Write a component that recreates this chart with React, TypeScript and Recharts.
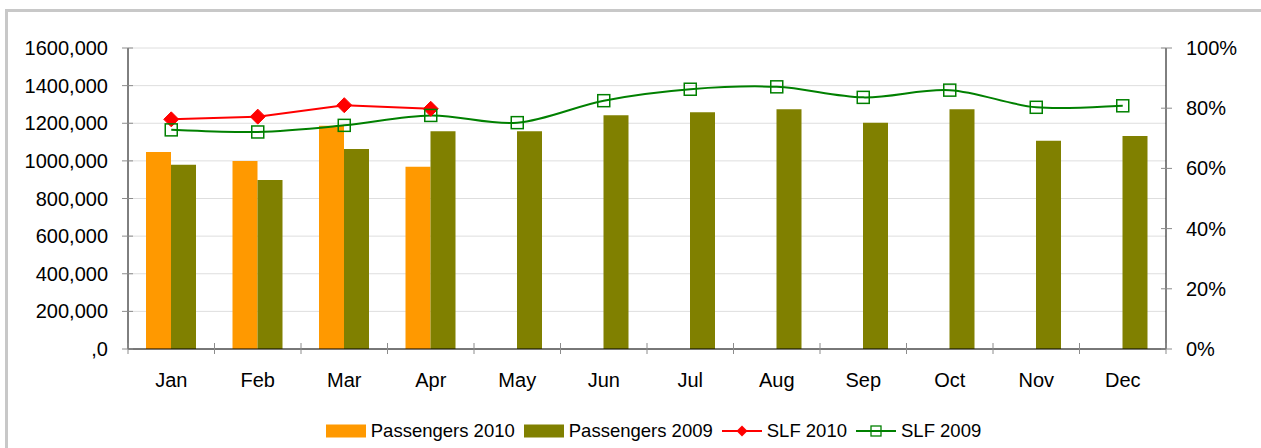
import React from "react";
import {
  Bar,
  CartesianGrid,
  ComposedChart,
  Legend,
  Line,
  XAxis,
  YAxis,
} from "recharts";

// values
const months = ["Jan", "Feb", "Mar", "Apr", "May", "Jun", "Jul", "Aug", "Sep", "Oct", "Nov", "Dec"];
const passengers2010 = [1047000, 1000000, 1187000, 969000, null, null, null, null, null, null, null, null];
const passengers2009 = [980000, 898000, 1063000, 1157000, 1158000, 1242000, 1258000, 1274000, 1203000, 1274000, 1107000, 1132000];
const slf2010 = [76.3, 77.2, 81.0, 79.8, null, null, null, null, null, null, null, null];
const slf2009 = [72.8, 72.1, 74.3, 77.6, 75.2, 82.5, 86.3, 87.1, 83.6, 86.0, 80.3, 80.8];
const leftTicks = [0, 200000, 400000, 600000, 800000, 1000000, 1200000, 1400000, 1600000];
const rightTicks = [0, 20, 40, 60, 80, 100];

const data = months.map((m, i) => ({
  month: m,
  p2010: passengers2010[i],
  p2009: passengers2009[i],
  s2010: slf2010[i],
  s2009: slf2009[i],
}));

const FONT = "'Liberation Sans', Arial, sans-serif";
const ORANGE = "#ff9900";
const OLIVE = "#808000";
const RED = "#ff0000";
const GREEN = "#008000";
const TICK_GREY = "#8c8c8c";

const W = 1261;
const H = 448;
const PLOT_LEFT = 128;
const PLOT_RIGHT = 1166;
const HALF_BAND = (PLOT_RIGHT - PLOT_LEFT) / months.length / 2;

// Excel-like smoothed line (Catmull-Rom as cubic bezier)
function excelSmooth(context: any) {
  let pts: number[][] = [];
  return {
    areaStart() {},
    areaEnd() {},
    lineStart() {
      pts = [];
    },
    point(x: number, y: number) {
      pts.push([+x, +y]);
    },
    lineEnd() {
      if (!pts.length) return;
      context.moveTo(pts[0][0], pts[0][1]);
      for (let i = 0; i < pts.length - 1; i++) {
        const p0 = pts[i - 1] || pts[i];
        const p1 = pts[i];
        const p2 = pts[i + 1];
        const p3 = pts[i + 2] || p2;
        context.bezierCurveTo(
          p1[0] + (p2[0] - p0[0]) / 6,
          p1[1] + (p2[1] - p0[1]) / 6,
          p2[0] - (p3[0] - p1[0]) / 6,
          p2[1] - (p3[1] - p1[1]) / 6,
          p2[0],
          p2[1]
        );
      }
    },
  };
}

const fmtLeft = (v: number) => (v === 0 ? ",0" : `${Math.round(v / 1000)},000`);

function LeftTick(props: any) {
  const { x, y, payload } = props;
  return (
    <g>
      <line x1={x - 6} x2={x + 5} y1={y} y2={y} stroke={TICK_GREY} />
      <text x={x - 20} y={y} dy="0.35em" textAnchor="end" fontSize={20} fontFamily={FONT} fill="#000">
        {fmtLeft(payload.value)}
      </text>
    </g>
  );
}

function RightTick(props: any) {
  const { x, y, payload } = props;
  return (
    <g>
      <line x1={x - 5} x2={x + 6} y1={y} y2={y} stroke={TICK_GREY} />
      <text x={x + 20} y={y} dy="0.35em" textAnchor="start" fontSize={20} fontFamily={FONT} fill="#000">
        {`${payload.value}%`}
      </text>
    </g>
  );
}

function MonthTick(props: any) {
  const { x, y, payload, index } = props;
  const half = HALF_BAND;
  return (
    <g>
      <line x1={x - half} x2={x - half} y1={y - 6} y2={y + 5} stroke={TICK_GREY} />
      {index === months.length - 1 && (
        <line x1={x + half} x2={x + half} y1={y - 6} y2={y + 5} stroke={TICK_GREY} />
      )}
      <text x={x} y={y + 38} textAnchor="middle" fontSize={20} fontFamily={FONT} fill="#000">
        {payload.value}
      </text>
    </g>
  );
}

function Diamond(props: any) {
  const { cx, cy, value } = props;
  if (value == null || cy == null) return <g key={props.key} />;
  const r = 7.5;
  return (
    <path
      key={props.key}
      d={`M${cx},${cy - r}L${cx + r},${cy}L${cx},${cy + r}L${cx - r},${cy}Z`}
      fill={RED}
      stroke={RED}
    />
  );
}

function Square(props: any) {
  const { cx, cy, value } = props;
  if (value == null || cy == null) return <g key={props.key} />;
  const s = 6;
  return (
    <rect key={props.key} x={cx - s} y={cy - s} width={2 * s} height={2 * s} fill="none" stroke={GREEN} strokeWidth={1.5} />
  );
}

const legendItems = [
  { label: "Passengers 2010", kind: "bar", color: ORANGE },
  { label: "Passengers 2009", kind: "bar", color: OLIVE },
  { label: "SLF 2010", kind: "diamond", color: RED },
  { label: "SLF 2009", kind: "square", color: GREEN },
];

function LegendBox() {
  return (
    <div
      style={{
        height: 39,
        boxSizing: "border-box",
        paddingTop: 5,
        paddingLeft: 55,
        display: "flex",
        justifyContent: "center",
        alignItems: "center",
        fontFamily: FONT,
        fontSize: 18.5,
        color: "#000",
      }}
    >
      {legendItems.map((it) => (
        <div key={it.label} style={{ display: "flex", alignItems: "center", marginRight: 9 }}>
          <svg width={40} height={16} style={{ marginRight: 5 }}>
            {it.kind === "bar" && <rect x={0} y={1.5} width={40} height={13} fill={it.color} />}
            {it.kind !== "bar" && <line x1={0} x2={40} y1={8} y2={8} stroke={it.color} strokeWidth={2} />}
            {it.kind === "diamond" && <path d="M20,2.5L25.5,8L20,13.5L14.5,8Z" fill={it.color} />}
            {it.kind === "square" && (
              <rect x={15} y={3} width={10} height={10} fill="none" stroke={it.color} strokeWidth={1.3} />
            )}
          </svg>
          <span>{it.label}</span>
        </div>
      ))}
    </div>
  );
}

export default function App() {
  return (
    <div style={{ position: "relative", width: W, height: H, overflow: "hidden", background: "#fff" }}>
      <style>{"html,body{margin:0;padding:0;overflow:hidden;background:#fff}"}</style>
      <div
        style={{
          position: "absolute",
          left: 5,
          top: 9,
          width: W + 20,
          height: H + 20,
          borderLeft: "3px solid #c8c8c8",
          borderTop: "3px solid #c8c8c8",
        }}
      />
      <div style={{ position: "absolute", left: 0, top: 0 }}>
        <ComposedChart
          width={W}
          height={H}
          data={data}
          margin={{ top: 48, right: 0, bottom: 0, left: 0 }}
          barGap={0}
        >
          <CartesianGrid yAxisId="left" vertical={false} stroke="#dedede" />
          <XAxis
            dataKey="month"
            height={60}
            axisLine={{ stroke: "#000" }}
            tickLine={false}
            tickSize={0}
            tickMargin={0}
            tick={<MonthTick />}
            interval={0}
          />
          <YAxis
            yAxisId="left"
            width={128}
            domain={[0, 1600000]}
            ticks={leftTicks}
            axisLine={{ stroke: "#000" }}
            tickLine={false}
            tickSize={0}
            tickMargin={0}
            tick={<LeftTick />}
            interval={0}
          />
          <YAxis
            yAxisId="right"
            orientation="right"
            width={95}
            domain={[0, 100]}
            ticks={rightTicks}
            axisLine={{ stroke: "#000" }}
            tickLine={false}
            tickSize={0}
            tickMargin={0}
            tick={<RightTick />}
            interval={0}
          />
          <Legend verticalAlign="bottom" content={() => <LegendBox />} />
          <Bar yAxisId="left" dataKey="p2010" name="Passengers 2010" fill={ORANGE} barSize={25} isAnimationActive={false} />
          <Bar yAxisId="left" dataKey="p2009" name="Passengers 2009" fill={OLIVE} barSize={25} isAnimationActive={false} />
          <Line
            yAxisId="right"
            dataKey="s2010"
            name="SLF 2010"
            type="linear"
            stroke={RED}
            strokeWidth={2}
            dot={(p: any) => <Diamond {...p} />}
            activeDot={false}
            isAnimationActive={false}
          />
          <Line
            yAxisId="right"
            dataKey="s2009"
            name="SLF 2009"
            type={excelSmooth as any}
            stroke={GREEN}
            strokeWidth={2}
            dot={(p: any) => <Square {...p} />}
            activeDot={false}
            isAnimationActive={false}
          />
        </ComposedChart>
      </div>
    </div>
  );
}
